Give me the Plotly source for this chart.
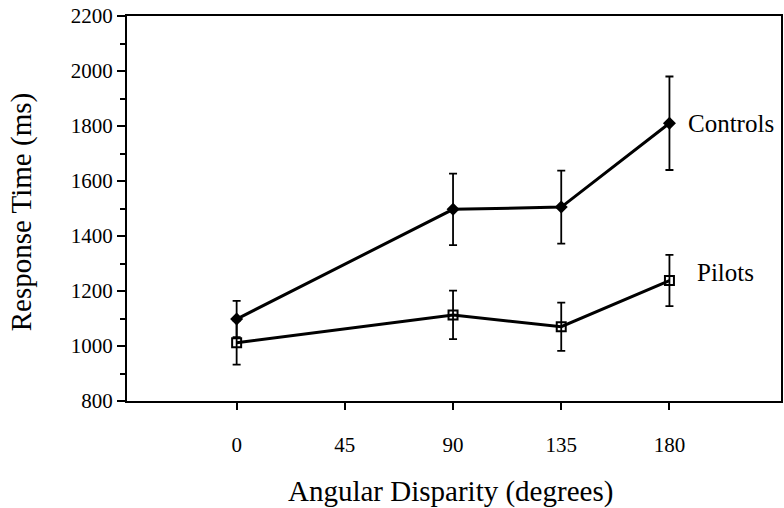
import plotly.graph_objects as go

angles = [0, 90, 135, 180]
controls = [1098, 1497, 1505, 1810]
controls_err = [66, 130, 133, 170]
pilots = [1012, 1113, 1070, 1238]
pilots_err = [80, 88, 88, 93]
x_ticks = [0, 45, 90, 135, 180]
y_ticks = [800, 1000, 1200, 1400, 1600, 1800, 2000, 2200]

FONT = "Liberation Serif"

fig = go.Figure()
fig.add_trace(go.Scatter(
    x=angles, y=controls, mode="lines+markers", name="Controls",
    line=dict(color="black", width=3),
    marker=dict(symbol="diamond", size=10, color="black"),
    error_y=dict(type="data", array=controls_err, visible=True,
                 color="black", thickness=1.8, width=4),
))
fig.add_trace(go.Scatter(
    x=angles, y=pilots, mode="lines+markers", name="Pilots",
    line=dict(color="black", width=3),
    marker=dict(symbol="square-open", size=9, color="black",
                line=dict(width=2, color="black")),
    error_y=dict(type="data", array=pilots_err, visible=True,
                 color="black", thickness=1.8, width=4),
))

fig.add_annotation(x=187, y=controls[-1], text="Controls", showarrow=False,
                   xanchor="left", yanchor="middle",
                   font=dict(family=FONT, size=25, color="black"))
fig.add_annotation(x=190.5, y=pilots[-1] + 30, text="Pilots", showarrow=False,
                   xanchor="left", yanchor="middle",
                   font=dict(family=FONT, size=25, color="black"))

fig.add_annotation(x=(451 - 127) / 656, y=-(491 - 401) / 385, xref="paper", yref="paper",
                   yanchor="middle", xanchor="center",
                   text="Angular Disparity (degrees)", showarrow=False,
                   font=dict(family=FONT, size=29, color="black"))
fig.add_annotation(x=-(127 - 22) / 656, y=(401 - 212) / 385, xref="paper", yref="paper",
                   xanchor="center", yanchor="middle",
                   text="Response Time (ms)", showarrow=False, textangle=-90,
                   font=dict(family=FONT, size=29, color="black"))

fig.update_xaxes(range=[-45.6, 226.4], tickvals=x_ticks, ticks="outside",
                 ticklen=7, tickwidth=2, tickcolor="black", ticklabelstandoff=17,
                 showline=True, linewidth=2, linecolor="black", mirror=True,
                 showgrid=False, zeroline=False,
                 tickfont=dict(family=FONT, size=21, color="black"))
fig.update_yaxes(range=[800, 2200], tickvals=y_ticks, ticks="outside",
                 ticklen=8, tickwidth=2, tickcolor="black",
                 minor=dict(dtick=100, ticks="outside", ticklen=5, tickwidth=1.5,
                            tickcolor="black", showgrid=False),
                 showline=True, linewidth=2, linecolor="black", mirror=True,
                 showgrid=False, zeroline=False,
                 tickfont=dict(family=FONT, size=21, color="black"))

fig.update_layout(
    width=784, height=508,
    margin=dict(l=127, r=1, t=16, b=107),
    paper_bgcolor="white", plot_bgcolor="white",
    showlegend=False,
)

fig.write_html("out.html", config={"displayModeBar": False},
               post_script="document.body.style.margin='0';document.body.style.overflow='hidden';")
